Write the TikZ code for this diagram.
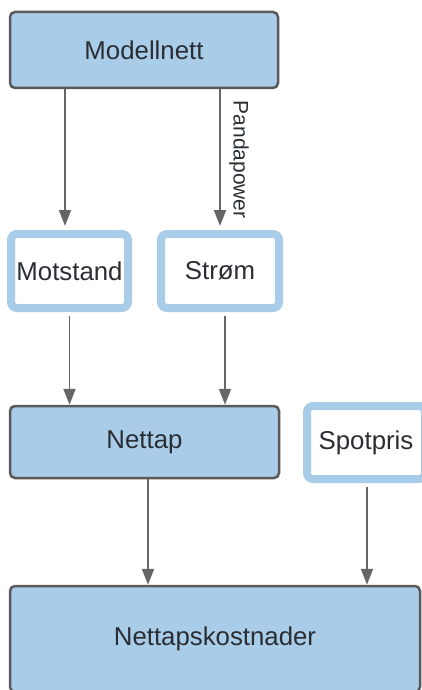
\documentclass[tikz,border=0pt]{standalone}
\usepackage{fontspec}
\setmainfont{Liberation Sans}
\usetikzlibrary{arrows.meta}
\definecolor{boxfill}{HTML}{A9CCE9}
\definecolor{boxline}{HTML}{5A5A5A}
\definecolor{arrgray}{HTML}{666666}
\definecolor{txt}{HTML}{2A2E33}
\tikzset{
  darkbox/.style={draw=boxline, line width=2.5pt, fill=boxfill, rounded corners=5pt,
    text=txt, font=\fontsize{25.8}{30}\selectfont, inner sep=0pt},
  lightbox/.style={draw=boxfill, line width=8pt, fill=white, rounded corners=6pt,
    text=txt, font=\fontsize{25.8}{30}\selectfont, inner sep=0pt},
  arr/.style={draw=arrgray, line width=1.9pt, -{Triangle[width=12pt,length=16pt]}, arrgray},
  lbl/.style={text=txt, font=\fontsize{21}{24}\selectfont, inner sep=0pt}
}
\begin{document}
\begin{tikzpicture}[x=1pt, y=-1pt]
\clip (0,0) rectangle (422,690);
\fill[white] (0,0) rectangle (422,690);
% nodes
\node[darkbox, minimum width=268pt, minimum height=76pt] (mod) at (144,50) {Modellnett};
\node[lightbox, minimum width=117pt, minimum height=74pt] (mot) at (69.5,271) {Motstand};
\node[lightbox, minimum width=118pt, minimum height=74pt] (str) at (220,271) {Strøm};
\node[darkbox, minimum width=269pt, minimum height=72pt] (net) at (144.5,442) {Nettap};
\node[lightbox, minimum width=118pt, minimum height=73pt] (spot) at (366,442.5) {Spotpris};
\node[darkbox, minimum width=410pt, minimum height=106pt] (kost) at (215,639) {Nettapskostnader};
% connectors
\draw[arr, shorten >=4pt] (mod.south -| 65,0) -- (mot.north -| 65,0);
\draw[arr, shorten >=4pt] (mod.south -| str) -- node[lbl, midway, xshift=19pt, rotate=-90] {Pandapower} (str.north);
\draw[arr, shorten <=4pt] (mot.south) -- (net.north -| mot);
\draw[arr, shorten <=4pt] (str.south -| 225,0) -- (net.north -| 225,0);
\draw[arr] (net.south -| 148,0) -- (kost.north -| 148,0);
\draw[arr, shorten <=4pt] (spot.south -| 367,0) -- (kost.north -| 367,0);
\end{tikzpicture}
\end{document}
